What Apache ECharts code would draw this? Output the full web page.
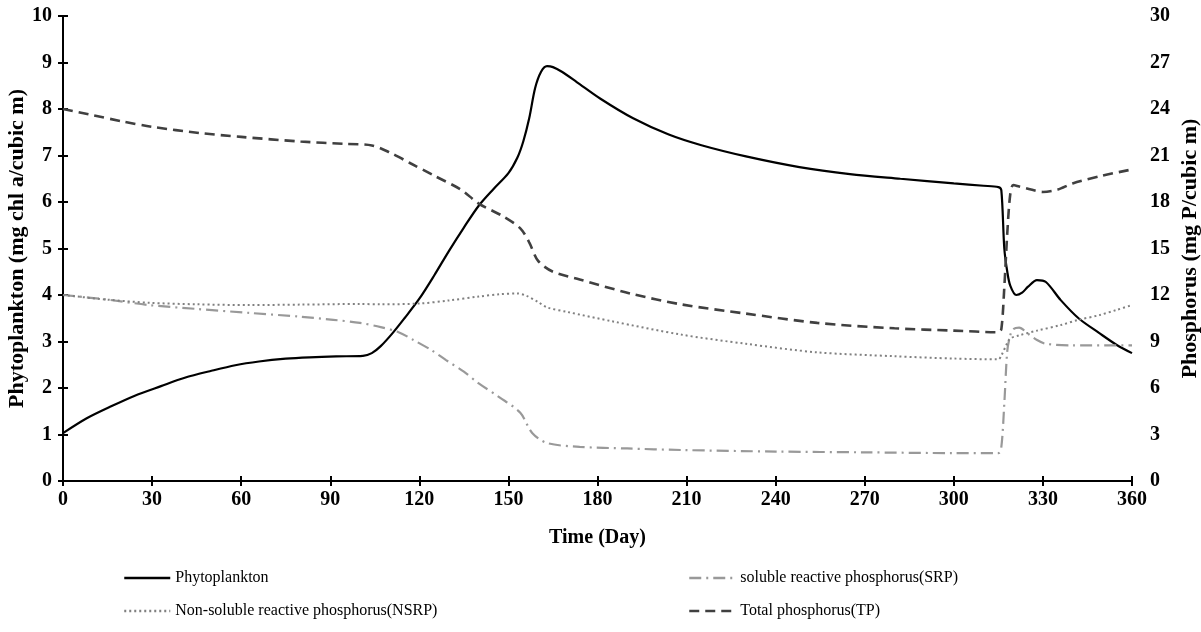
<!DOCTYPE html>
<html>
<head>
<meta charset="utf-8">
<script src="https://cdn.jsdelivr.net/npm/echarts@6/dist/echarts.min.js"></script>
<style>
html, body { margin: 0; padding: 0; background: #fff; }
#mainChart { width: 1201px; height: 632px; }
</style>
</head>
<body>
<div id="mainChart"></div>
<script>
// phytoplankton, left axis (mg chl a/cubic m)
var phytoDays = [0,8,16,24,33,41,50,58,66,75,83,92,101,104,107,111,115,120,125,130,135,140,145,150,153,155,157,159,161,163,165,168,173,181,192,204,215,230,248,265,282,300,310,315,316,317,318,319,321,323,325,328,331,336,342,349,355,360];
var phytoVals = [1.03,1.35,1.6,1.83,2.04,2.22,2.37,2.49,2.57,2.63,2.66,2.68,2.69,2.75,2.9,3.18,3.5,3.92,4.42,4.95,5.45,5.92,6.28,6.62,6.95,7.3,7.8,8.45,8.8,8.92,8.9,8.8,8.58,8.22,7.8,7.45,7.22,6.98,6.75,6.6,6.5,6.4,6.35,6.32,6.25,5.0,4.5,4.2,4.0,4.05,4.18,4.32,4.28,3.89,3.5,3.18,2.92,2.75];

// phosphorus, right axis (mg P/cubic m)
var srpDays = [0,15,29,45,63,80,91,100,107,113,118,124,129,135,140,147,154,158,163,174,190,208,240,270,300,315,316,317,318,319,320,322,325,328,331,340,360];
var srpVals = [12,11.7,11.35,11.1,10.84,10.6,10.4,10.2,9.93,9.6,9.1,8.45,7.8,7.05,6.3,5.4,4.4,3.1,2.45,2.2,2.1,2.0,1.9,1.85,1.8,1.8,2.2,5,8.4,9.4,9.8,9.9,9.5,9.1,8.85,8.75,8.75];

var nsrpDays = [0,15,29,45,63,80,100,107,120,130,140,147,153,156,160,163,170,185,208,230,254,280,300,315,316,318,319,322,328,336,342,349,355,360];
var nsrpVals = [12,11.7,11.5,11.4,11.35,11.38,11.42,11.4,11.45,11.65,11.9,12.05,12.1,11.95,11.55,11.2,10.9,10.3,9.45,8.85,8.3,8.05,7.9,7.85,8.1,8.9,9.2,9.4,9.7,10.06,10.4,10.7,11.05,11.35];

var tpDays = [0,10,20,30,46,60,80,95,104,110,117,125,134,140,148,154,157,160,165,174,191,208,230,254,280,300,315,316,317,318,319,320,322,326,330,335,340,350,360];
var tpVals = [24.0,23.6,23.2,22.85,22.45,22.2,21.9,21.75,21.65,21.2,20.5,19.7,18.8,17.9,17.1,16.3,15.4,14.2,13.5,13.0,12.1,11.4,10.8,10.2,9.85,9.7,9.6,9.8,12.5,16,18.5,19.1,19.0,18.8,18.65,18.8,19.2,19.7,20.1];

function pairs(xs, ys) {
    var out = [];
    for (var i = 0; i < xs.length; i++) {
        out.push([xs[i], ys[i]]);
    }
    return out;
}

var myChart = echarts.init(document.getElementById("mainChart"));
var serif = "'Liberation Serif', 'Times New Roman', serif";
var tickFont = {fontFamily: serif, fontWeight: "bold", fontSize: 20, color: "#000"};
var blackLine = {show: true, lineStyle: {color: "#000", width: 2}};
var innerTick = {show: true, inside: true, length: 5, lineStyle: {color: "#000", width: 2}};
var legendText = {fontFamily: serif, fontSize: 16, color: "#000"};

var option = {
    animation: false,
    grid: {left: 63, right: 69, top: 16, bottom: 151, containLabel: false, outerBoundsMode: "none"},
    legend: [{
        orient: "vertical",
        left: 118, top: 565,
        itemWidth: 46, itemHeight: 14, itemGap: 17,
        itemStyle: {opacity: 0},
        lineStyle: {width: 2.5},
        textStyle: legendText,
        data: ["Phytoplankton", "Non-soluble reactive phosphorus(NSRP)"]
    }, {
        orient: "vertical",
        left: 683, top: 565,
        itemWidth: 46, itemHeight: 14, itemGap: 17,
        itemStyle: {opacity: 0},
        lineStyle: {width: 2.5},
        textStyle: legendText,
        data: ["soluble reactive phosphorus(SRP)", "Total phosphorus(TP)"]
    }],
    xAxis: [{
        type: "value", min: 0, max: 360, interval: 30,
        name: "Time (Day)", nameLocation: "middle", nameGap: 47,
        nameTextStyle: {fontFamily: serif, fontWeight: "bold", fontSize: 20, color: "#000"},
        axisLine: blackLine, axisTick: innerTick,
        axisLabel: Object.assign({margin: 9}, tickFont),
        splitLine: {show: false}
    }, {
        type: "value", min: 0, max: 360, interval: 30, position: "top",
        axisLine: blackLine, axisTick: innerTick,
        axisLabel: {show: false}, splitLine: {show: false}
    }],
    yAxis: [{
        type: "value", min: 0, max: 10, interval: 1,
        name: "Phytoplankton (mg chl a/cubic m)", nameLocation: "middle", nameGap: 35,
        nameMoveOverlap: false,
        nameTextStyle: {fontFamily: serif, fontWeight: "bold", fontSize: 22, color: "#000"},
        axisLine: blackLine, axisTick: innerTick,
        axisLabel: Object.assign({margin: 11}, tickFont),
        splitLine: {show: false}
    }, {
        type: "value", min: 0, max: 30, interval: 3, position: "right",
        name: "Phosphorus (mg P/cubic m)", nameLocation: "middle", nameGap: 47,
        nameMoveOverlap: false,
        nameTextStyle: {fontFamily: serif, fontWeight: "bold", fontSize: 22, color: "#000"},
        axisLine: blackLine, axisTick: innerTick,
        axisLabel: Object.assign({margin: 18}, tickFont),
        splitLine: {show: false}
    }],
    series: [{
        name: "Phytoplankton", type: "line", yAxisIndex: 0,
        data: pairs(phytoDays, phytoVals),
        showSymbol: false, symbol: "none", smooth: 0.3,
        lineStyle: {color: "#000", width: 2.2, type: "solid"},
        itemStyle: {color: "#000"}
    }, {
        name: "soluble reactive phosphorus(SRP)", type: "line", yAxisIndex: 1,
        data: pairs(srpDays, srpVals),
        showSymbol: false, symbol: "none", smooth: 0.3,
        lineStyle: {color: "#999", width: 2.2, type: [12, 5, 2, 5]},
        itemStyle: {color: "#999"}
    }, {
        name: "Non-soluble reactive phosphorus(NSRP)", type: "line", yAxisIndex: 1,
        data: pairs(nsrpDays, nsrpVals),
        showSymbol: false, symbol: "none", smooth: 0.3,
        lineStyle: {color: "#808080", width: 2, type: [2, 3]},
        itemStyle: {color: "#808080"}
    }, {
        name: "Total phosphorus(TP)", type: "line", yAxisIndex: 1,
        data: pairs(tpDays, tpVals),
        showSymbol: false, symbol: "none", smooth: 0.3,
        lineStyle: {color: "#404040", width: 2.6, type: [10, 6]},
        itemStyle: {color: "#404040"}
    }]
};

myChart.setOption(option);
</script>
</body>
</html>
